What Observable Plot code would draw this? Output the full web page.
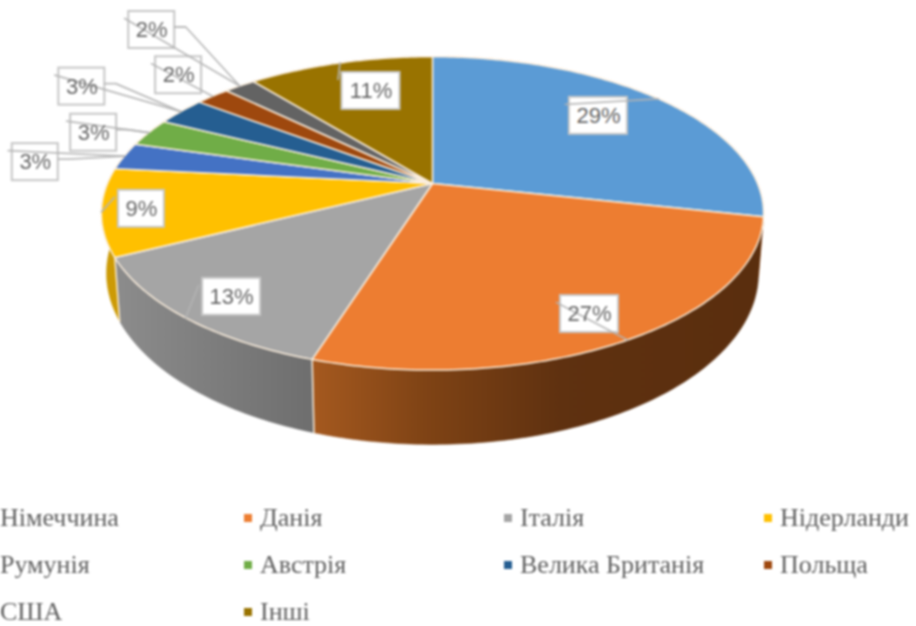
<!DOCTYPE html>
<html lang="uk">
<head>
<meta charset="utf-8">
<script src="https://cdn.jsdelivr.net/npm/d3@7"></script>
<script src="https://cdn.jsdelivr.net/npm/@observablehq/plot@0.6"></script>
<style>
  html, body { margin: 0; padding: 0; background: #fff; overflow: hidden; width: 916px; height: 626px; }
  #page { position: relative; width: 916px; height: 626px; overflow: hidden; filter: blur(0.8px); }
  #chart svg { display: block; }
  #legend { position: absolute; left: -16px; top: 506px; display: grid; grid-template-columns: repeat(4, 260px); grid-auto-rows: 24px; row-gap: 23px;
            font-family: "Liberation Serif", serif; font-size: 26px; color: #5f5f5f; }
  #legend div { display: flex; align-items: center; white-space: nowrap; height: 24px; line-height: 24px; }
  #legend span { display: block; height: 24px; line-height: 24px; }
  #legend i { display: inline-block; width: 8px; height: 8px; margin-right: 8px; flex: none; }
</style>
</head>
<body>
<div id="page"><div id="chart"></div><div id="legend"></div></div>
<script>
// Data
const countries = ["Німеччина", "Данія", "Італія", "Нідерланди", "Румунія", "Австрія", "Велика Британія", "Польща", "США", "Інші"];
const shares = [28.4, 26.5, 12.7, 9.0, 2.8, 2.9, 2.95, 2.0, 1.85, 10.9];
const labels = ["29%", "27%", "13%", "9%", "3%", "3%", "3%", "2%", "2%", "11%"];

// Styles
const topColors = ["#5b9bd5", "#ed7d31", "#a5a5a5", "#ffc000", "#4472c4", "#70ad47", "#255e91", "#9e480e", "#636363", "#997300"];
const wallColors = ["#ed7d31", "url(#wallOrange)", "url(#wallGray)", "#cc9a05", "#35599a", "#588a38", "#1c4870", "#7a370a", "#4c4c4c", "#755800"];
// Label box shift away from the middle of each slice's rim
const labelShiftX = [-60, -38, 46, 40, -89, -55, -99, -34, -88, 31];
const labelShiftY = [17, -26, -21, -3, 6, 0, -25, -21, -56, 28];

// Perspective view of the pie disc
const W = 916, H = 490, d = 5.24;
const topDisc = {cx: 432, cy: 183, rx: 325, ry: 151};
const baseDisc = {cx: 432, cy: 240, rx: 320, ry: 165};
function project(disc, frac, r = 1) {
  const a = frac * 2 * Math.PI, X = r * Math.sin(a), Y = -r * Math.cos(a), s = d / (d - Y);
  return {x: disc.cx + disc.rx * X * s, y: disc.cy + disc.ry * Y * s};
}
const total = d3.sum(shares);
const ends = d3.cumsum(shares).map(v => v / total);
const starts = ends.map((_, i) => i ? ends[i - 1] : 0);
const STEP = 0.0025;
function rim(disc, a, b) {
  const n = Math.max(2, Math.ceil((b - a) / STEP));
  return d3.range(n + 1).map(i => project(disc, a + (b - a) * i / n));
}
const facePolys = shares.map((_, i) => [{x: topDisc.cx, y: topDisc.cy}, ...rim(topDisc, starts[i], ends[i])]);
const wallPolys = shares.map((_, i) => [...rim(topDisc, starts[i], ends[i]), ...rim(baseDisc, starts[i], ends[i]).reverse()]);

// Labels
const boxW = t => t.length > 2 ? 58 : 46, boxH = 37;
const boxes = labels.map((text, i) => {
  const anchor = project(topDisc, (starts[i] + ends[i]) / 2);
  const x = anchor.x + labelShiftX[i], y = anchor.y + labelShiftY[i], w = boxW(text);
  const xs = (x - topDisc.cx) / topDisc.rx, ys = (y - topDisc.cy) / topDisc.ry;
  const Y = ys * d / (d + ys), X = xs * (d - Y) / d;
  return {text, i, anchor, x, y, x1: x - w / 2, x2: x + w / 2, y1: y - boxH / 2, y2: y + boxH / 2, outside: Math.hypot(X, Y) > 1};
});
const leaderRows = boxes.flatMap(b => {
  const main = [b.anchor, {x: b.x1 - 4, y: b.y1 + 7}].map(p => ({...p, id: b.i + "a"}));
  const elbow = b.outside && labelShiftX[b.i] < -50
    ? [b.anchor, {x: b.x2 + 11, y: b.y - 3}, {x: b.x2, y: b.y - 3}].map(p => ({...p, id: b.i + "b"}))
    : [];
  return [...main, ...elbow];
});

function gradient(id, stops) {
  return g => g.append("linearGradient").attr("id", id).attr("x1", 0).attr("x2", 1).attr("y1", 0).attr("y2", 0)
    .selectAll("stop").data(stops).join("stop").attr("offset", s => s[0]).attr("stop-color", s => s[1]);
}
const defsMark = () => {
  const defs = d3.create("svg:defs");
  defs.call(gradient("wallOrange", [[0, "#a5591f"], [0.25, "#7f4315"], [0.55, "#5f3110"], [1, "#5a2e0e"]]));
  defs.call(gradient("wallGray", [[0, "#8c8c8c"], [1, "#6e6e6e"]]));
  return defs.node();
};

const edge = "#fbeedd";
const chart = Plot.plot({
  width: W, height: H, margin: 0,
  x: {domain: [0, W], range: [0, W], axis: null},
  y: {domain: [0, H], range: [0, H], axis: null},
  marks: [
    defsMark,
    ...wallPolys.map((poly, i) => Plot.line(poly, {x: "x", y: "y", curve: "linear-closed", fill: wallColors[i], stroke: wallColors[i], strokeWidth: 0.5})),
    ...[2, 3].map(i => Plot.line([project(topDisc, starts[i]), project(baseDisc, starts[i])], {x: "x", y: "y", stroke: edge, strokeWidth: 1.5})),
    ...facePolys.map((poly, i) => Plot.line(poly, {x: "x", y: "y", curve: "linear-closed", fill: topColors[i], stroke: edge, strokeWidth: 1.5})),
    Plot.rect(boxes, {x1: "x1", x2: "x2", y1: "y1", y2: "y2", fill: "#fff", stroke: "#c6c6c6", strokeWidth: 2}),
    Plot.line(leaderRows, {x: "x", y: "y", z: "id", stroke: "#b4b4b4", strokeWidth: 1.8, strokeOpacity: 0.9}),
    Plot.text(boxes, {x: "x", y: "y", text: "text", fontSize: 22, fill: "#666", fontFamily: "Liberation Sans, sans-serif"})
  ]
});
document.getElementById("chart").append(chart);

const legend = d3.select("#legend");
const items = legend.selectAll("div").data(countries).join("div");
items.append("i").style("background", (_, i) => topColors[i]);
items.append("span").text(c => c);
</script>
</body>
</html>
